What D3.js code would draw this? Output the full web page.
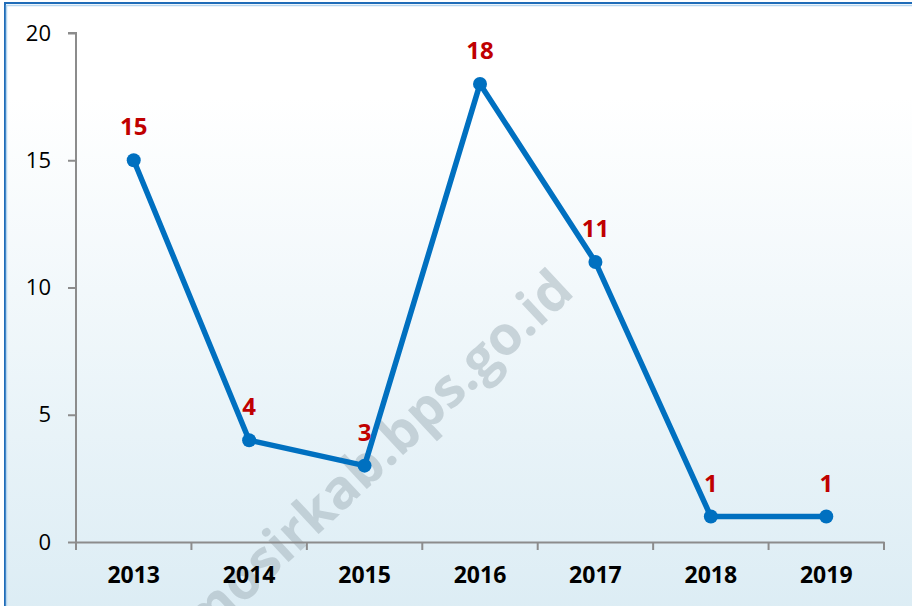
<!DOCTYPE html>
<html>
<head>
<meta charset="utf-8">
<script src="https://cdn.jsdelivr.net/npm/d3@7"></script>
<style>
  html, body { margin: 0; padding: 0; background: #fff; }
  svg { display: block; }
</style>
</head>
<body>
<div id="chart"></div>
<script>
const years = ["2013", "2014", "2015", "2016", "2017", "2018", "2019"];
const values = [15, 4, 3, 18, 11, 1, 1];
const yTicks = [0, 5, 10, 15, 20];

const W = 912, H = 606;
const m = {t: 33, r: 28, b: 64, l: 76};

const svg = d3.select("#chart").append("svg")
  .attr("width", W)
  .attr("height", H);

const defs = svg.append("defs");
const grad = defs.append("linearGradient")
  .attr("id", "bg")
  .attr("x1", 0).attr("y1", 0).attr("x2", 0).attr("y2", 1);
grad.append("stop").attr("offset", "0%").attr("stop-color", "#ffffff");
grad.append("stop").attr("offset", "15%").attr("stop-color", "#ffffff");
grad.append("stop").attr("offset", "100%").attr("stop-color", "#dbecf4");

// chart frame (only left/top edges visible)
svg.append("rect")
  .attr("x", 5).attr("y", 3)
  .attr("width", W + 20).attr("height", H + 20)
  .attr("fill", "url(#bg)")
  .attr("stroke", "#1f6cb8")
  .attr("stroke-width", 2);
svg.append("path")
  .attr("d", `M6.5,${H + 10}V5.5H${W + 10}`)
  .attr("fill", "none")
  .attr("stroke", "#b6d6f0")
  .attr("stroke-width", 1.5);

const x = d3.scaleBand()
  .domain(years)
  .range([m.l, W - m.r]);

const y = d3.scaleLinear()
  .domain([0, 20])
  .range([H - m.b, m.t]);

// watermark (runs off the bottom edge, as in the source)
svg.append("text")
  .attr("transform", "translate(576,294) rotate(-43)")
  .attr("text-anchor", "end")
  .attr("font-family", "Open Sans, sans-serif")
  .attr("font-weight", "bold")
  .attr("font-size", 54)
  .attr("fill", "#9fb0b8")
  .attr("fill-opacity", 0.5)
  .text("samosirkab.bps.go.id");

// axes
const xAxis = svg.append("g")
  .attr("transform", `translate(0,${y(0)})`)
  .call(d3.axisBottom(x).tickSize(0).tickFormat(""));
xAxis.select(".domain").attr("stroke", "#8c8c8c").attr("stroke-width", 2);

svg.append("g")
  .selectAll("line")
  .data([...years.map(d => x(d)), W - m.r])
  .join("line")
  .attr("x1", d => d).attr("x2", d => d)
  .attr("y1", y(0)).attr("y2", y(0) + 8)
  .attr("stroke", "#8c8c8c")
  .attr("stroke-width", 2);

svg.append("g")
  .selectAll("text")
  .data(years)
  .join("text")
  .attr("x", d => x(d) + x.bandwidth() / 2)
  .attr("y", y(0) + 41)
  .attr("text-anchor", "middle")
  .attr("font-family", "Open Sans, sans-serif")
  .attr("font-weight", "bold")
  .attr("font-size", 23)
  .attr("fill", "#000")
  .text(d => d);

const yAxis = svg.append("g")
  .attr("transform", `translate(${m.l},0)`)
  .call(d3.axisLeft(y).tickValues(yTicks).tickSize(8).tickPadding(17));
yAxis.select(".domain").attr("stroke", "#8c8c8c").attr("stroke-width", 2)
  .attr("d", `M-8,${y(20)}H0V${y(0)}`);
yAxis.selectAll(".tick line").attr("stroke", "#8c8c8c").attr("stroke-width", 2);
yAxis.selectAll(".tick text")
  .attr("font-family", "Open Sans, sans-serif")
  .attr("font-size", 22)
  .attr("fill", "#000");

// series
const px = (d, i) => x(years[i]) + x.bandwidth() / 2;

svg.append("path")
  .datum(values)
  .attr("fill", "none")
  .attr("stroke", "#0070c0")
  .attr("stroke-width", 5.5)
  .attr("stroke-linejoin", "round")
  .attr("d", d3.line().x(px).y(d => y(d)));

svg.append("g")
  .selectAll("circle")
  .data(values)
  .join("circle")
  .attr("cx", px)
  .attr("cy", d => y(d))
  .attr("r", 7)
  .attr("fill", "#0070c0");

svg.append("g")
  .selectAll("text")
  .data(values)
  .join("text")
  .attr("x", px)
  .attr("y", d => y(d) - 25)
  .attr("text-anchor", "middle")
  .attr("font-family", "Open Sans, sans-serif")
  .attr("font-weight", "bold")
  .attr("font-size", 24)
  .attr("fill", "#c00000")
  .text(d => d);
</script>
</body>
</html>
